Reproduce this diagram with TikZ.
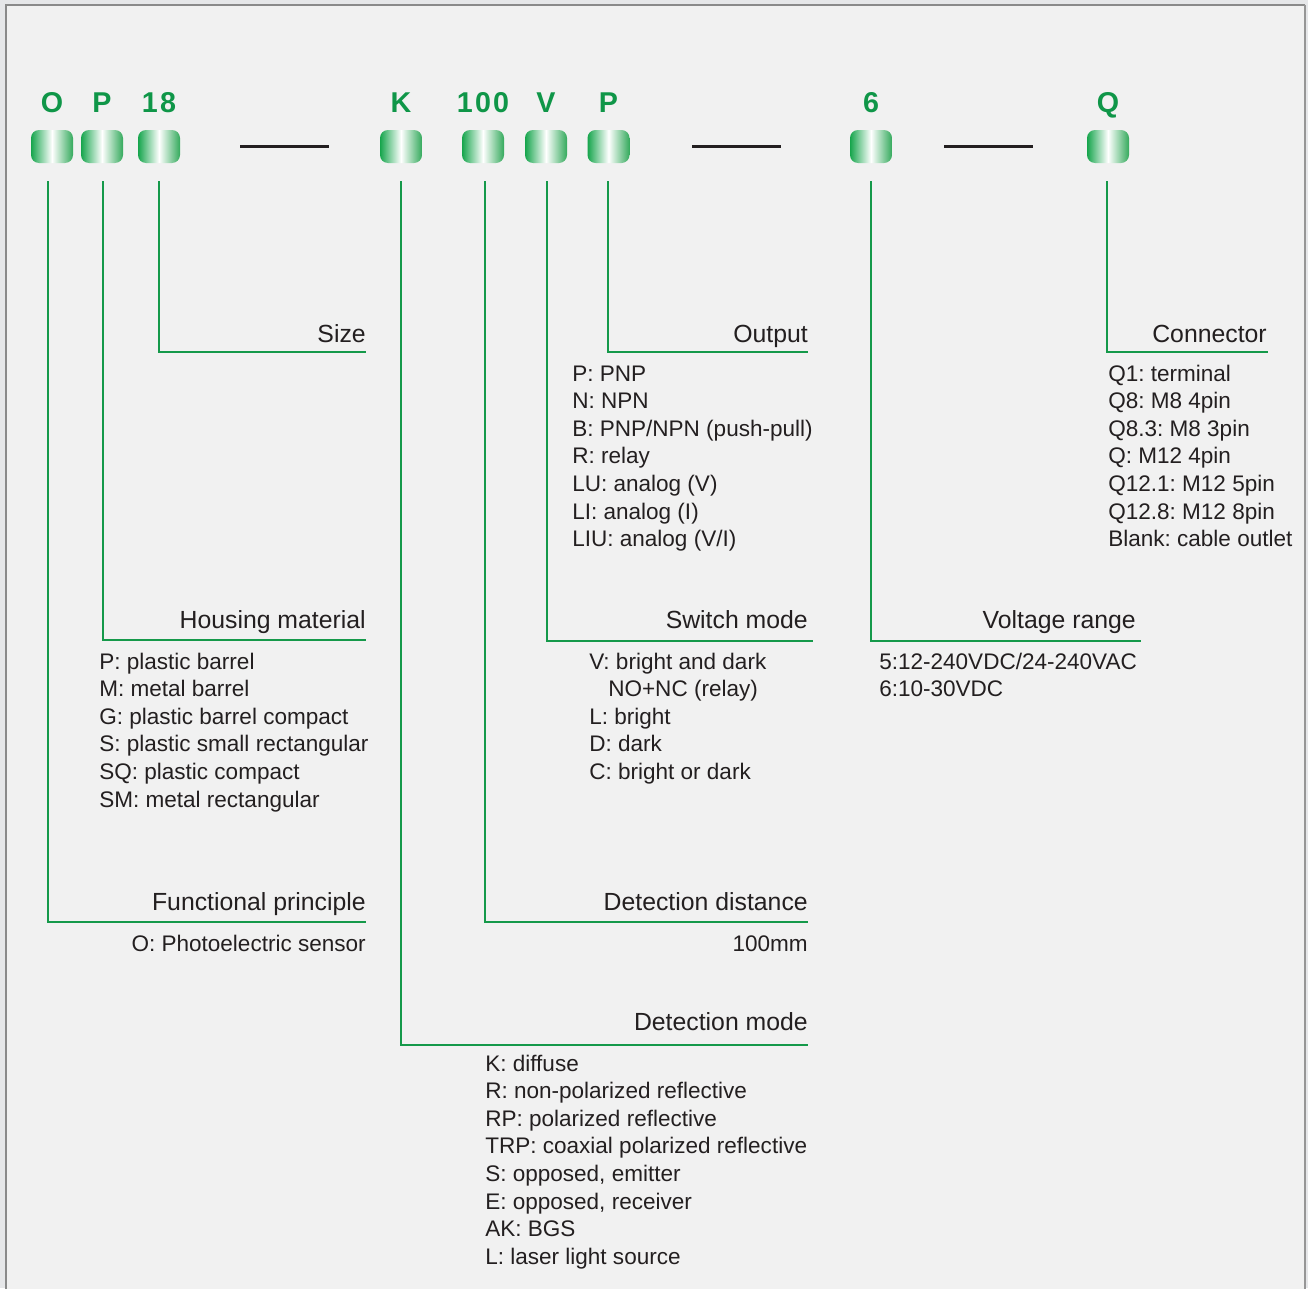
\documentclass[tikz,border=0pt]{standalone}
\usepackage{fontspec}
\setmainfont{Liberation Sans}
\newfontfamily\topfont[LetterSpace=8]{Liberation Sans}
\frenchspacing
\definecolor{bgout}{HTML}{E6E7E9}
\definecolor{bgin}{HTML}{F1F1F1}
\definecolor{frame}{HTML}{8A8A8A}
\definecolor{gline}{HTML}{15994A}
\definecolor{gtext}{HTML}{0F9648}
\definecolor{txt}{HTML}{231F20}
\definecolor{pgL}{HTML}{16A54C}
\definecolor{pgR}{HTML}{34AA5C}
\tikzset{
  pill/.style={draw=none, rounded corners=6pt, minimum width=31.5pt, minimum height=24.75pt,
    left color=pgL, right color=pgR, middle color=white, inner sep=0pt},
  topl/.style={text=gtext, font=\topfont\fontsize{21.5pt}{25pt}\selectfont\bfseries, anchor=base, inner sep=0pt},
  glin/.style={draw=gline, line width=1.6pt},
  dashline/.style={draw=txt, line width=2.2pt},
  lab/.style={text=txt, font=\fontsize{18.6pt}{22pt}\selectfont, anchor=base east, inner sep=0pt},
  item/.style={text=txt, font=\fontsize{16.9pt}{20pt}\selectfont, anchor=base west, inner sep=0pt},
  itemr/.style={text=txt, font=\fontsize{16.9pt}{20pt}\selectfont, anchor=base east, inner sep=0pt},
}
\begin{document}
\begin{tikzpicture}[x=0.75pt, y=-0.75pt]
\useasboundingbox (0,0) rectangle (1308,1288);
\fill[bgout] (0,0) rectangle (1308,1288);
\fill[bgin] (6,5) rectangle (1305,1292);
\draw[frame, line width=1.2pt] (6,1292) -- (6,5) -- (1305,5);
\draw[frame!90, line width=2.2pt] (1305,5) -- (1305,1292);

% pills and top letters
\foreach \nm/\x/\t in {p1/52/O, p2/102/P, p3/159/18, p4/401/K, p5/483/100, p6/546/V, p7/608.5/P, p8/871/6, p9/1108/Q}{
  \node[pill] (\nm) at (\x,146.5) {};
  \node[topl] (\nm t) at (\x,112.5) {\t};
}
% dashes
\coordinate (d1a) at (240,146.5); \coordinate (d1b) at (329,146.5);
\coordinate (d2a) at (692,146.5); \coordinate (d2b) at (781,146.5);
\coordinate (d3a) at (944,146.5); \coordinate (d3b) at (1033,146.5);
\draw[dashline] (d1a) -- (d1b);
\draw[dashline] (d2a) -- (d2b);
\draw[dashline] (d3a) -- (d3b);

% connectors: start / end coordinates
\foreach \nm/\x/\y/\xe in {c1/48/922/366, c2/103/640/366, c3/159/352/366, c4/401/1045/808, c5/485/922/808, c6/547/641/813, c7/608/352/808, c8/871/641/1141, c9/1107/352/1268}{
  \coordinate (\nm s) at (\x,181);
  \coordinate (\nm e) at (\xe,\y);
  \draw[glin] (\nm s) |- (\nm e);
}

% labels
\node[lab] (l1) at (366,910) {Functional principle};
\node[lab] (l2) at (366,628) {Housing material};
\node[lab] (l3) at (366,342) {Size};
\node[lab] (l4) at (808,1030) {Detection mode};
\node[lab] (l5) at (808,910) {Detection distance};
\node[lab] (l6) at (808,628) {Switch mode};
\node[lab] (l7) at (808,342) {Output};
\node[lab] (l8) at (1136,628) {Voltage range};
\node[lab] (l9) at (1267,342) {Connector};

% items
\node[itemr] (i1) at (366,951) {O: Photoelectric sensor};
\node[itemr] (i5) at (808,951) {100mm};

\foreach \t [count=\i from 0] in {{P: plastic barrel},{M: metal barrel},{G: plastic barrel compact},{S: plastic small rectangular},{SQ: plastic compact},{SM: metal rectangular}}
  \node[item] (hm\i) at (99,{669+27.6*\i}) {\t};

\foreach \t [count=\i from 0] in {{K: diffuse},{R: non-polarized reflective},{RP: polarized reflective},{TRP: coaxial polarized reflective},{S: opposed, emitter},{E: opposed, receiver},{AK: BGS},{L: laser light source}}
  \node[item] (dm\i) at (485,{1071+27.6*\i}) {\t};

\node[item] (sm0) at (589,669) {V: bright and dark};
\node[item] (sm1) at (608,696.6) {NO+NC (relay)};
\node[item] (sm2) at (589,724.2) {L: bright};
\node[item] (sm3) at (589,751.8) {D: dark};
\node[item] (sm4) at (589,779.4) {C: bright or dark};

\foreach \t [count=\i from 0] in {{P: PNP},{N: NPN},{B: PNP/NPN (push-pull)},{R: relay},{LU: analog (V)},{LI: analog (I)},{LIU: analog (V/I)}}
  \node[item] (op\i) at (572,{381+27.6*\i}) {\t};

\node[item] (vr0) at (879,669) {5:12-240VDC/24-240VAC};
\node[item] (vr1) at (879,696.6) {6:10-30VDC};

\foreach \t [count=\i from 0] in {{Q1: terminal},{Q8: M8 4pin},{Q8.3: M8 3pin},{Q: M12 4pin},{Q12.1: M12 5pin},{Q12.8: M12 8pin},{Blank: cable outlet}}
  \node[item] (cn\i) at (1108,{381+27.6*\i}) {\t};
\end{tikzpicture}
\end{document}
